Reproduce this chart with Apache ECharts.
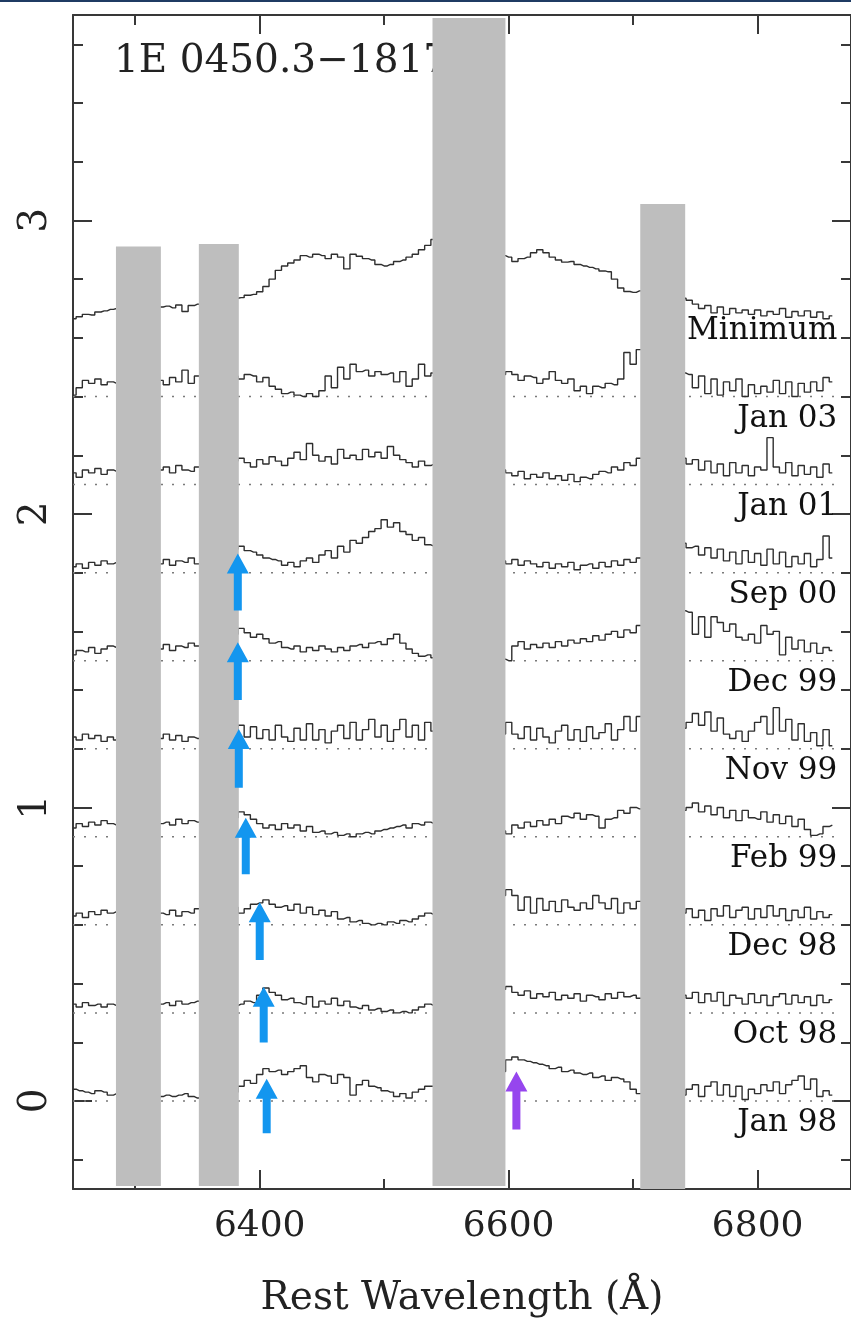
<!DOCTYPE html>
<html>
<head>
<meta charset="utf-8">
<script src="https://cdn.jsdelivr.net/npm/echarts@6/dist/echarts.min.js"></script>
<style>
  html, body { margin: 0; padding: 0; background: #fff; }
  #chart { width: 851px; height: 1323px; }
  .topbar { position: absolute; left: 0; top: 0; width: 851px; height: 2px; background: #1f3b63; }
</style>
</head>
<body>
<div id="chart"></div>
<div class="topbar"></div>
<script>
// ---- axis ranges and ticks ----
const WAVE_MIN = 6250, WAVE_MAX = 6875;
const FLUX_MIN = -0.3, FLUX_MAX = 3.7;
const xMajor = [6400, 6600, 6800];
const xMinor = [6300, 6500, 6700];
const yMajor = [0, 1, 2, 3];
const yMinor = [-0.2, 0.2, 0.4, 0.6, 0.8, 1.2, 1.4, 1.6, 1.8, 2.2, 2.4, 2.6, 2.8, 3.2, 3.4, 3.6];

// ---- spectra: 5 A bins, five visible stretches starting at these wavelengths ----
const BIN = 5;
const segStart = [6250, 6320, 6380, 6595, 6740];

const epochNames = ['Minimum', 'Jan 03', 'Jan 01', 'Sep 00', 'Dec 99', 'Nov 99', 'Feb 99', 'Dec 98', 'Oct 98', 'Jan 98'];
const epochLevels = [2.7, 2.4, 2.1, 1.8, 1.5, 1.2, 0.9, 0.6, 0.3, 0.0];

// flux relative to each epoch's level
const specMinimum = [
  [-0.035, -0.028, -0.02, -0.022, -0.012, -0.008, -0.003, 0],
  [0.005, 0.008, 0.002, 0.012, -0.01, 0.01, 0.015, 0.022],
  [0.035, 0.037, 0.045, 0.048, 0.057, 0.075, 0.10, 0.13, 0.145, 0.155, 0.165, 0.18, 0.175, 0.185, 0.18, 0.17, 0.185, 0.175, 0.135, 0.185, 0.178, 0.17, 0.165, 0.15, 0.145, 0.15, 0.16, 0.165, 0.175, 0.185, 0.20, 0.215, 0.235],
  [0.18, 0.175, 0.16, 0.17, 0.175, 0.19, 0.20, 0.19, 0.175, 0.165, 0.158, 0.16, 0.15, 0.145, 0.14, 0.135, 0.128, 0.125, 0.10, 0.07, 0.058, 0.055, 0.06, 0.05],
  [0.035, 0.028, 0.015, 0.0, 0.01, -0.015, 0.005, -0.02, 0.0, -0.015, -0.005, -0.02, -0.005, -0.025, -0.01, -0.02, 0.0, -0.03, -0.01, -0.025, -0.008, -0.03, -0.012, -0.035, -0.025]
];
const specJan03 = [
  [0.005, 0.03, 0.055, 0.045, 0.06, 0.04, 0.05, 0.045],
  [0.055, 0.04, 0.065, 0.05, 0.09, 0.045, 0.07, 0.06],
  [0.07, 0.06, 0.075, 0.07, 0.05, 0.065, 0.035, 0.025, 0.01, 0.015, 0.005, 0.0, 0.01, 0.0, 0.02, 0.07, 0.03, 0.10, 0.06, 0.11, 0.085, 0.09, 0.07, 0.085, 0.075, 0.08, 0.05, 0.085, 0.035, 0.06, 0.11, 0.07, 0.08],
  [0.075, 0.085, 0.075, 0.055, 0.07, 0.065, 0.045, 0.06, 0.085, 0.055, 0.045, 0.06, 0.02, 0.035, 0.01, 0.035, 0.03, 0.045, 0.04, 0.06, 0.15, 0.11, 0.16, 0.13],
  [0.08, 0.075, 0.03, 0.07, 0.01, 0.06, 0.005, 0.05, 0.02, 0.06, 0.0, 0.04, 0.01, 0.035, 0.015, 0.055, 0.01, 0.05, 0.0, 0.045, 0.015, 0.05, 0.02, 0.065, 0.05]
];
const specJan01 = [
  [0.04, 0.025, 0.05, 0.04, 0.055, 0.035, 0.05, 0.045],
  [0.05, 0.06, 0.04, 0.065, 0.05, 0.045, 0.06, 0.055],
  [0.08, 0.09, 0.075, 0.06, 0.085, 0.07, 0.095, 0.08, 0.065, 0.09, 0.11, 0.085, 0.14, 0.10, 0.08, 0.095, 0.07, 0.12, 0.09, 0.10, 0.085, 0.12, 0.095, 0.11, 0.09, 0.13, 0.10, 0.085, 0.075, 0.06, 0.08, 0.065, 0.07],
  [0.05, 0.04, 0.03, 0.045, 0.02, 0.035, 0.025, 0.04, 0.02, 0.03, 0.015, 0.035, 0.01, 0.025, 0.02, 0.035, 0.045, 0.04, 0.06, 0.05, 0.075, 0.065, 0.09, 0.085],
  [0.09, 0.07, 0.085, 0.05, 0.08, 0.04, 0.07, 0.03, 0.075, 0.04, 0.065, 0.03, 0.06, 0.05, 0.16, 0.06, 0.04, 0.075, 0.03, 0.065, 0.035, 0.06, 0.025, 0.07, 0.04]
];
const specSep00 = [
  [0.02, 0.03, 0.015, 0.035, 0.025, 0.04, 0.03, 0.035],
  [0.03, 0.045, 0.025, 0.04, 0.035, 0.05, 0.03, 0.04],
  [0.08, 0.09, 0.075, 0.07, 0.06, 0.05, 0.045, 0.04, 0.025, 0.035, 0.02, 0.04, 0.05, 0.035, 0.06, 0.075, 0.05, 0.09, 0.07, 0.11, 0.10, 0.12, 0.14, 0.15, 0.18, 0.155, 0.17, 0.14, 0.13, 0.11, 0.12, 0.095, 0.09],
  [0.04, 0.03, 0.045, 0.025, 0.04, 0.03, 0.02, 0.035, 0.015, 0.03, 0.02, 0.035, 0.01, 0.025, 0.03, 0.015, 0.035, 0.02, 0.04, 0.025, 0.045, 0.035, 0.05, 0.04],
  [0.10, 0.085, 0.09, 0.06, 0.085, 0.05, 0.08, 0.04, 0.07, 0.03, 0.075, 0.035, 0.065, 0.025, 0.08, 0.03, 0.07, 0.02, 0.055, 0.03, 0.065, 0.02, 0.045, 0.125, 0.05]
];
const specDec99 = [
  [0.02, 0.035, 0.03, 0.045, 0.025, 0.04, 0.05, 0.045],
  [0.04, 0.055, 0.035, 0.05, 0.045, 0.06, 0.05, 0.055],
  [0.09, 0.11, 0.095, 0.08, 0.09, 0.075, 0.06, 0.065, 0.045, 0.04, 0.05, 0.03, 0.045, 0.035, 0.05, 0.04, 0.03, 0.045, 0.035, 0.05, 0.055, 0.045, 0.06, 0.065, 0.055, 0.075, 0.09, 0.06, 0.04, 0.025, 0.015, 0.02, 0.01],
  [0.005, 0.0, 0.05, 0.065, 0.04, 0.055, 0.045, 0.06, 0.045, 0.065, 0.05, 0.07, 0.06, 0.075, 0.065, 0.085, 0.07, 0.09, 0.10, 0.08, 0.105, 0.095, 0.12, 0.11],
  [0.17, 0.165, 0.09, 0.15, 0.08, 0.15, 0.13, 0.10, 0.125, 0.08, 0.07, 0.09, 0.06, 0.12, 0.09, 0.10, 0.02, 0.08, 0.04, 0.07, 0.03, 0.06, 0.025, 0.045, 0.035]
];
const specNov99 = [
  [0.04, 0.03, 0.05, 0.035, 0.045, 0.025, 0.04, 0.03],
  [0.035, 0.05, 0.03, 0.045, 0.025, 0.04, 0.035, 0.05],
  [0.06, 0.08, 0.04, 0.075, 0.035, 0.065, 0.03, 0.08, 0.04, 0.025, 0.07, 0.03, 0.085, 0.03, 0.065, 0.02, 0.06, 0.08, 0.035, 0.09, 0.03, 0.065, 0.10, 0.04, 0.08, 0.025, 0.065, 0.10, 0.04, 0.08, 0.03, 0.09, 0.06],
  [0.05, 0.09, 0.05, 0.035, 0.075, 0.03, 0.07, 0.04, 0.02, 0.06, 0.08, 0.03, 0.065, 0.025, 0.075, 0.035, 0.055, 0.085, 0.03, 0.065, 0.11, 0.06, 0.11, 0.08],
  [0.07, 0.09, 0.12, 0.08, 0.125, 0.06, 0.105, 0.05, 0.035, 0.06, 0.025, 0.06, 0.09, 0.11, 0.05, 0.14, 0.06, 0.10, 0.03, 0.085, 0.025, 0.055, 0.01, 0.065, 0.01]
];
const specFeb99 = [
  [0.03, 0.045, 0.035, 0.05, 0.04, 0.055, 0.045, 0.04],
  [0.045, 0.05, 0.04, 0.06, 0.045, 0.055, 0.05, 0.06],
  [0.065, 0.085, 0.075, 0.06, 0.045, 0.03, 0.04, 0.025, 0.045, 0.03, 0.04, 0.02, 0.035, 0.015, 0.02, 0.01, 0.015, 0.005, 0.01, 0.0, 0.01, 0.015, 0.01, 0.02, 0.025, 0.03, 0.035, 0.04, 0.03, 0.045, 0.04, 0.05, 0.045],
  [0.02, 0.01, 0.04, 0.03, 0.05, 0.035, 0.055, 0.04, 0.06, 0.045, 0.07, 0.065, 0.08, 0.06, 0.075, 0.07, 0.03, 0.06, 0.065, 0.09, 0.08, 0.10, 0.095, 0.10],
  [0.09, 0.10, 0.115, 0.085, 0.105, 0.075, 0.10, 0.065, 0.09, 0.055, 0.09, 0.065, 0.06, 0.085, 0.05, 0.075, 0.045, 0.07, 0.035, 0.06, 0.025, 0.005, 0.01, 0.035, 0.04]
];
const specDec98 = [
  [0.03, 0.04, 0.025, 0.045, 0.035, 0.05, 0.04, 0.045],
  [0.04, 0.035, 0.05, 0.03, 0.045, 0.04, 0.055, 0.05],
  [0.06, 0.04, 0.055, 0.07, 0.075, 0.085, 0.07, 0.06, 0.065, 0.05, 0.07, 0.04, 0.06, 0.035, 0.05, 0.03, 0.045, 0.02, 0.025, 0.01, 0.015, 0.005, 0.0, 0.005, 0.0, 0.01, 0.005, 0.015, 0.01, 0.02, 0.03, 0.04, 0.035],
  [0.10, 0.12, 0.10, 0.05, 0.095, 0.04, 0.09, 0.05, 0.08, 0.045, 0.085, 0.06, 0.05, 0.075, 0.055, 0.10, 0.075, 0.055, 0.09, 0.04, 0.075, 0.055, 0.08, 0.065],
  [0.04, 0.055, 0.025, 0.05, 0.015, 0.055, 0.03, 0.065, 0.025, 0.05, 0.06, 0.02, 0.055, 0.025, 0.065, 0.03, 0.055, 0.015, 0.05, 0.025, 0.06, 0.02, 0.045, 0.025, 0.035]
];
const specOct98 = [
  [0.03, 0.02, 0.035, 0.025, 0.03, 0.02, 0.03, 0.025],
  [0.03, 0.035, 0.025, 0.04, 0.03, 0.035, 0.04, 0.03],
  [0.025, 0.03, 0.04, 0.035, 0.06, 0.085, 0.07, 0.06, 0.045, 0.05, 0.035, 0.03, 0.055, 0.02, 0.04, 0.03, 0.05, 0.025, 0.04, 0.02, 0.015, 0.025, 0.01, 0.015, 0.005, 0.01, 0.0, 0.005, 0.0, 0.01, 0.02, 0.03, 0.025],
  [0.08, 0.09, 0.07, 0.06, 0.075, 0.05, 0.065, 0.055, 0.07, 0.045, 0.06, 0.05, 0.065, 0.04, 0.06, 0.055, 0.045, 0.065, 0.05, 0.07, 0.055, 0.06, 0.05, 0.065],
  [0.06, 0.05, 0.07, 0.035, 0.065, 0.04, 0.07, 0.025, 0.06, 0.05, 0.03, 0.065, 0.035, 0.06, 0.025, 0.055, 0.065, 0.03, 0.06, 0.035, 0.055, 0.025, 0.06, 0.035, 0.045]
];
const specJan98 = [
  [0.04, 0.035, 0.03, 0.025, 0.035, 0.03, 0.02, 0.025],
  [0.015, 0.02, 0.015, 0.02, 0.025, 0.015, 0.01, 0.005],
  [0.03, 0.05, 0.07, 0.06, 0.09, 0.11, 0.10, 0.105, 0.09, 0.10, 0.11, 0.12, 0.08, 0.065, 0.09, 0.085, 0.06, 0.09, 0.08, 0.02, 0.055, 0.07, 0.05, 0.045, 0.035, 0.03, 0.015, 0.025, 0.01, 0.03, 0.04, 0.05, 0.05],
  [0.10, 0.14, 0.15, 0.14, 0.135, 0.13, 0.125, 0.12, 0.11, 0.115, 0.10, 0.105, 0.095, 0.09, 0.095, 0.08, 0.085, 0.07, 0.08, 0.075, 0.065, 0.04, 0.025, 0.03],
  [0.02, 0.04, 0.055, 0.015, 0.05, 0.065, 0.02, 0.055, 0.015, 0.05, 0.005, 0.04, 0.025, 0.055, 0.035, 0.065, 0.025, 0.055, 0.07, 0.085, 0.04, 0.075, 0.015, 0.035, 0.02]
];
const spectra = [specMinimum, specJan03, specJan01, specSep00, specDec99, specNov99, specFeb99, specDec98, specOct98, specJan98];

// ---- masked regions (grey bands): wavelength from/to, flux bottom/top ----
const maskFrom = [6284.5, 6351.1, 6538.8, 6705.7];
const maskTo   = [6320.6, 6383.2, 6597.4, 6741.8];
const maskLow  = [-0.29, -0.29, -0.29, -0.30];
const maskHigh = [2.911, 2.920, 3.690, 3.056];

// ---- arrows: wavelength, tip flux, tail flux, colour ----
const arrowWave = [6382.4, 6382.4, 6383.2, 6388.8, 6400.0, 6403.2, 6405.6, 6606.2];
const arrowTip  = [1.865, 1.563, 1.267, 0.965, 0.677, 0.389, 0.076, 0.100];
const arrowTail = [1.671, 1.366, 1.067, 0.772, 0.480, 0.199, -0.110, -0.097];
const arrowColor = ['#1396ef', '#1396ef', '#1396ef', '#1396ef', '#1396ef', '#1396ef', '#1396ef', '#9646ee'];

const LABEL_WAVE = 6864;
const BASELINE_END = 6862;

const FONT = '"DejaVu Serif", serif';
const INK = '#222';
const AXIS = '#383838';

function buildSeriesData(segments, level) {
  const out = [];
  segments.forEach((seg, s) => {
    seg.forEach((v, j) => out.push([segStart[s] + BIN * j, v + level]));
    if (s < segments.length - 1) out.push([segStart[s] + BIN * seg.length, null]);
  });
  return out;
}

const series = [];

// zero-level dotted guides for the difference spectra
epochLevels.forEach((lvl, i) => {
  if (i === 0) return;
  series.push({
    type: 'line', xAxisIndex: 0, yAxisIndex: 0, z: 1,
    data: [[WAVE_MIN, lvl], [BASELINE_END, lvl]],
    symbol: 'none', silent: true,
    lineStyle: { color: '#7a7a7a', width: 1.5, type: [2, 9] }
  });
});

// spectra as histograms
spectra.forEach((seg, i) => {
  series.push({
    type: 'line', name: epochNames[i], xAxisIndex: 0, yAxisIndex: 0, z: 2,
    data: buildSeriesData(seg, epochLevels[i]),
    step: 'middle', symbol: 'none', connectNulls: false,
    lineStyle: { color: '#2e2e2e', width: 1.4 }
  });
});

// grey masked bands
series.push({
  type: 'custom', xAxisIndex: 0, yAxisIndex: 0, z: 5, clip: false,
  dimensions: ['from', 'to', 'low', 'high'],
  encode: { x: [0, 1], y: [2, 3] },
  data: maskFrom.map((f, i) => [f, maskTo[i], maskLow[i], maskHigh[i]]),
  renderItem: (params, api) => {
    const a = api.coord([api.value(0), api.value(3)]);
    const b = api.coord([api.value(1), api.value(2)]);
    return { type: 'rect', shape: { x: a[0], y: a[1], width: b[0] - a[0], height: b[1] - a[1] },
             style: { fill: '#bebebe' } };
  }
});

// arrows
series.push({
  type: 'custom', xAxisIndex: 0, yAxisIndex: 0, z: 6, clip: false,
  dimensions: ['wave', 'tip', 'tail'],
  encode: { x: 0, y: [1, 2] },
  data: arrowWave.map((w, i) => [w, arrowTip[i], arrowTail[i]]),
  renderItem: (params, api) => {
    const t = api.coord([api.value(0), api.value(1)]);
    const b = api.coord([api.value(0), api.value(2)]);
    const x = t[0], hw = 11, hh = 20, sw = 4;
    return {
      type: 'polygon',
      shape: { points: [[x, t[1]], [x + hw, t[1] + hh], [x + sw, t[1] + hh], [x + sw, b[1]],
                        [x - sw, b[1]], [x - sw, t[1] + hh], [x - hw, t[1] + hh]] },
      style: { fill: arrowColor[params.dataIndex] }
    };
  }
});

// epoch labels
series.push({
  type: 'custom', xAxisIndex: 0, yAxisIndex: 0, z: 6, clip: false,
  data: epochLevels.map(l => [LABEL_WAVE, l]),
  renderItem: (params, api) => {
    const p = api.coord([api.value(0), api.value(1)]);
    return {
      type: 'text', x: p[0], y: p[1] + 22,
      style: { text: epochNames[params.dataIndex], align: 'right', verticalAlign: 'middle',
               fontFamily: FONT, fontSize: 31, fill: '#111' }
    };
  }
});

const lineStyle = { color: AXIS, width: 2 };
const noSplit = { show: false };
function xAx(position, ticks, len, withLine, withLabels) {
  return {
    type: 'value', min: WAVE_MIN, max: WAVE_MAX, position, gridIndex: 0,
    splitLine: noSplit,
    axisLine: { show: withLine, onZero: false, lineStyle },
    axisTick: { show: true, inside: true, length: len, customValues: ticks, lineStyle },
    axisLabel: withLabels
      ? { show: true, customValues: ticks, margin: 20, fontFamily: FONT, fontSize: 36, color: INK,
          formatter: v => String(v) }
      : { show: false }
  };
}
function yAx(position, ticks, len, withLine, withLabels) {
  return {
    type: 'value', min: FLUX_MIN, max: FLUX_MAX, position, gridIndex: 0,
    splitLine: noSplit,
    axisLine: { show: withLine, onZero: false, lineStyle },
    axisTick: { show: true, inside: true, length: len, customValues: ticks, lineStyle },
    axisLabel: withLabels
      ? { show: true, customValues: ticks, rotate: 90, margin: 18, fontFamily: FONT, fontSize: 39, color: INK }
      : { show: false }
  };
}

const xMain = xAx('bottom', xMajor, 19, true, true);
xMain.name = 'Rest Wavelength (Å)';
xMain.nameLocation = 'middle';
xMain.nameGap = 90;
xMain.nameTextStyle = { fontFamily: FONT, fontSize: 39, color: INK };

const option = {
  animation: false,
  backgroundColor: '#fff',
  title: {
    text: '1E 0450.3\u22121817', left: 109, top: 37, z: 1,
    textStyle: { fontFamily: FONT, fontSize: 39, fontWeight: 'normal', color: INK }
  },
  grid: { left: 73, top: 15, width: 779, height: 1178, containLabel: false },
  xAxis: [
    xMain,
    xAx('top', xMajor, 19, true, false),
    xAx('bottom', xMinor, 10, false, false),
    xAx('top', xMinor, 10, false, false)
  ],
  yAxis: [
    yAx('left', yMajor, 19, true, true),
    yAx('right', yMajor, 19, true, false),
    yAx('left', yMinor, 10, false, false),
    yAx('right', yMinor, 10, false, false)
  ],
  series
};

const chart = echarts.init(document.getElementById('chart'), null, { renderer: 'canvas' });
chart.setOption(option);
</script>
</body>
</html>
